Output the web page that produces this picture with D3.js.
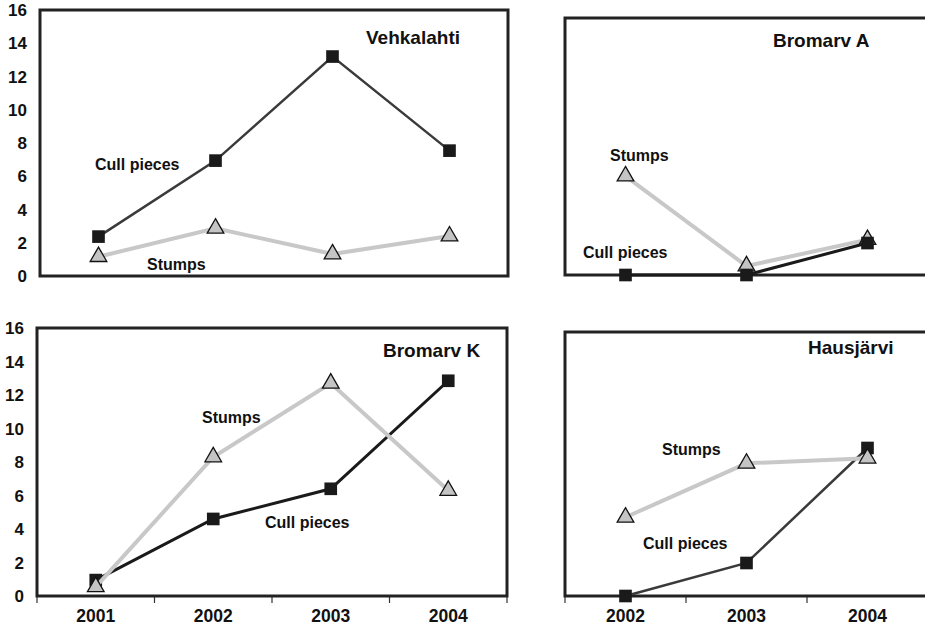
<!DOCTYPE html>
<html>
<head>
<meta charset="utf-8">
<script src="https://cdn.jsdelivr.net/npm/d3@7"></script>
<style>
  body { margin: 0; background: #fff; }
  svg text { font-family: "Liberation Sans", Arial, sans-serif; font-weight: bold; fill: #111; }
</style>
</head>
<body>
<div id="chart"></div>
<script>
// data
const yearsLong = ["2001", "2002", "2003", "2004"];
const yearsShort = ["2002", "2003", "2004"];
const yTicks = [0, 2, 4, 6, 8, 10, 12, 14, 16];

const vehCull = [2.37, 6.94, 13.2, 7.54];
const vehStumps = [1.16, 2.87, 1.32, 2.4];
const braCull = [0, 0, 1.99];
const braStumps = [6.16, 0.56, 2.2];
const brkCull = [0.95, 4.6, 6.4, 12.85];
const brkStumps = [0.55, 8.3, 12.7, 6.3];
const hauCull = [0, 2.0, 8.97];
const hauStumps = [4.77, 8.04, 8.35];

const W = 925, H = 628;

const panels = [
  { title: "Vehkalahti", years: yearsLong, cull: vehCull, stumps: vehStumps,
    left: 40, right: 508, top: 10, bottom: 276, yAxis: true, xAxis: false,
    cullColor: "#3a3a3a", cullWidth: 2.5, cullOnTop: false,
    titlePos: [366, 37], cullPos: [95, 164], stumpPos: [147, 264] },
  { title: "Bromarv A", years: yearsShort, cull: braCull, stumps: braStumps,
    left: 565, right: 928, top: 18, bottom: 275, yAxis: false, xAxis: false,
    cullColor: "#1a1a1a", cullWidth: 3, cullOnTop: true,
    titlePos: [773, 40], cullPos: [583, 252], stumpPos: [610, 155] },
  { title: "Bromarv K", years: yearsLong, cull: brkCull, stumps: brkStumps,
    left: 37, right: 507, top: 328, bottom: 596, yAxis: true, xAxis: true,
    cullColor: "#1a1a1a", cullWidth: 3, cullOnTop: false,
    titlePos: [383, 350], cullPos: [265, 522], stumpPos: [202, 417] },
  { title: "Hausjärvi", years: yearsShort, cull: hauCull, stumps: hauStumps,
    left: 565, right: 928, top: 332, bottom: 596, yAxis: false, xAxis: true,
    cullColor: "#3a3a3a", cullWidth: 2.5, cullOnTop: false,
    titlePos: [808, 347], cullPos: [643, 543], stumpPos: [662, 449] }
];

const svg = d3.select("#chart").append("svg")
  .attr("width", W).attr("height", H);
svg.append("rect").attr("width", W).attr("height", H).attr("fill", "#fff");

const square = d3.symbol().type(d3.symbolSquare).size(160);
const triangle = d3.symbol().type(d3.symbolTriangle).size(120);

panels.forEach(p => {
  const g = svg.append("g");
  const x = d3.scaleBand().domain(p.years).range([p.left, p.right]);
  const y = d3.scaleLinear().domain([0, 16]).range([p.bottom, p.top]);
  const cx = d => x(d) + x.bandwidth() / 2;

  if (p.yAxis) {
    g.append("g").selectAll("text").data(yTicks).enter().append("text")
      .attr("x", p.left - 13).attr("y", d => y(d)).attr("dy", "0.36em")
      .attr("text-anchor", "end").style("font-size", "17px")
      .text(d => d);
  }
  if (p.xAxis) {
    const ax = g.append("g").attr("transform", "translate(0," + p.bottom + ")")
      .call(d3.axisBottom(x).tickSize(0).tickPadding(14));
    ax.select(".domain").remove();
    ax.selectAll("text").style("font-size", "17.5px")
      .style("font-family", "'Liberation Sans', Arial, sans-serif")
      .style("font-weight", "bold").attr("fill", "#111");
    // tick marks at band edges
    const edges = p.years.map(d => x(d)).concat([p.right]);
    g.append("g").selectAll("line").data(edges).enter().append("line")
      .attr("x1", d => d).attr("x2", d => d)
      .attr("y1", p.bottom).attr("y2", p.bottom + 7)
      .attr("stroke", "#333").attr("stroke-width", 1.2);
  }

  // frame
  g.append("rect")
    .attr("x", p.left).attr("y", p.top)
    .attr("width", p.right - p.left).attr("height", p.bottom - p.top)
    .attr("fill", "none").attr("stroke", "#222").attr("stroke-width", 3);

  const line = d3.line().x((d, i) => cx(p.years[i])).y(d => y(d));

  const drawCull = () => {
    g.append("path").datum(p.cull).attr("d", line)
      .attr("fill", "none").attr("stroke", p.cullColor).attr("stroke-width", p.cullWidth);
    g.append("g").selectAll("path").data(p.cull).enter().append("path")
      .attr("d", square)
      .attr("transform", (d, i) => "translate(" + cx(p.years[i]) + "," + y(d) + ")")
      .attr("fill", "#1a1a1a");
  };
  const drawStumps = () => {
    g.append("path").datum(p.stumps).attr("d", line)
      .attr("fill", "none").attr("stroke", "#c8c8c8").attr("stroke-width", 4);
    g.append("g").selectAll("path").data(p.stumps).enter().append("path")
      .attr("d", triangle)
      .attr("transform", (d, i) => "translate(" + cx(p.years[i]) + "," + y(d) + ")")
      .attr("fill", "#c4c4c4").attr("stroke", "#111").attr("stroke-width", 1.3);
  };
  if (p.cullOnTop) { drawStumps(); drawCull(); } else { drawCull(); drawStumps(); }

  g.append("text").attr("x", p.titlePos[0]).attr("y", p.titlePos[1]).attr("dy", "0.36em")
    .style("font-size", "19px").text(p.title);
  g.append("text").attr("x", p.cullPos[0]).attr("y", p.cullPos[1]).attr("dy", "0.36em")
    .style("font-size", "16px").text("Cull pieces");
  g.append("text").attr("x", p.stumpPos[0]).attr("y", p.stumpPos[1]).attr("dy", "0.36em")
    .style("font-size", "16px").text("Stumps");
});
</script>
</body>
</html>
